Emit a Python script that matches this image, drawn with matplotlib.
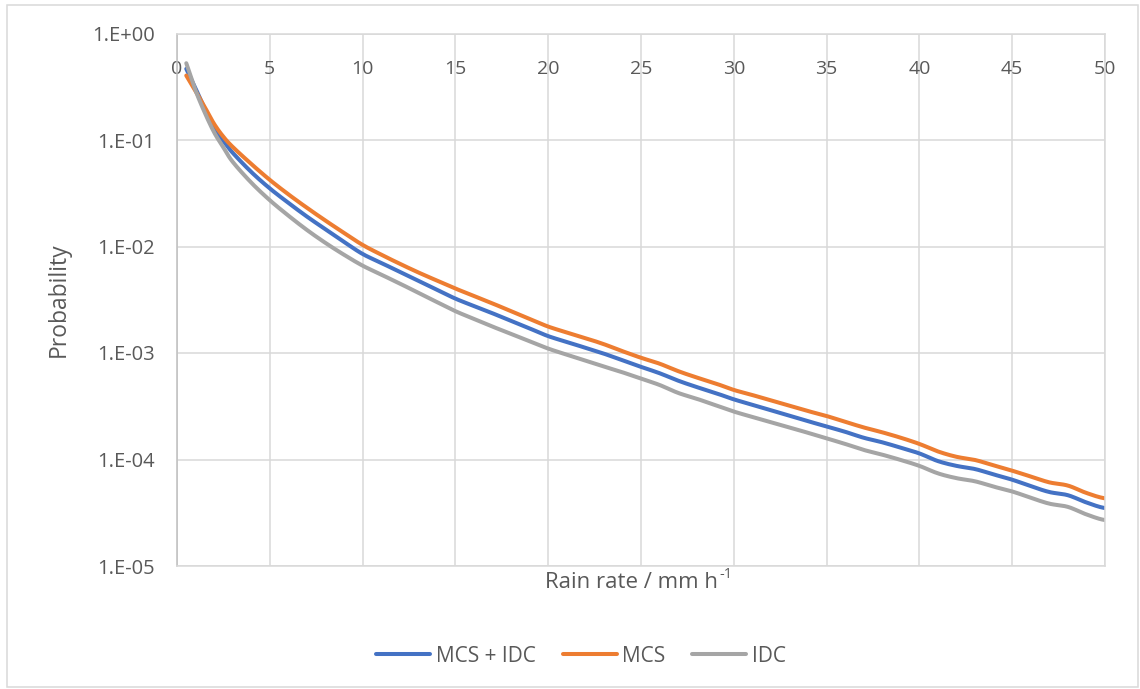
import numpy as np
import matplotlib
matplotlib.use("Agg")
import matplotlib.pyplot as plt
from matplotlib.ticker import FixedLocator, FuncFormatter
from matplotlib.patches import Rectangle

plt.rcParams['font.family'] = ['Open Sans', 'DejaVu Sans']

# rain rate (mm/h)
rain_rate = [0.5, 1, 1.5, 2, 2.5, 3, 4, 5, 6, 7, 8, 9, 10,
             11, 12, 13, 14, 15, 16, 17, 18, 19, 20,
             21, 22, 23, 24, 25, 26, 27, 28, 29, 30,
             31, 32, 33, 34, 35, 36, 37, 38, 39, 40,
             41, 42, 43, 44, 45, 46, 47, 48, 49, 50]

# probability
p_mcs_idc = [0.466, 0.305, 0.195, 0.130, 0.0977, 0.0759, 0.0501, 0.0351, 0.0257, 0.0191, 0.0145, 0.01104, 0.00851,
             0.00702, 0.00578, 0.00476, 0.00393, 0.00324, 0.00276, 0.00236, 0.00200, 0.00170, 0.00144,
             0.00127, 0.00112, 0.000986, 0.000855, 0.000741, 0.000646, 0.000550, 0.000479, 0.000422, 0.000367,
             0.000327, 0.000290, 0.000258, 0.000229, 0.000204, 0.000182, 0.000160, 0.000145, 0.000129, 0.000114,
             0.0000966, 0.0000871, 0.0000813, 0.0000724, 0.0000646, 0.0000562, 0.0000495, 0.0000462, 0.0000395, 0.0000350]

p_mcs = [0.403, 0.288, 0.203, 0.1416, 0.1072, 0.0861, 0.0596, 0.0422, 0.0309, 0.0231, 0.0175, 0.0134, 0.01035,
         0.00839, 0.00689, 0.00571, 0.00479, 0.00403, 0.00343, 0.00292, 0.00247, 0.00209, 0.00177,
         0.00156, 0.00138, 0.00121, 0.00104, 0.000902, 0.000794, 0.000676, 0.000589, 0.000519, 0.000450,
         0.000403, 0.000359, 0.000320, 0.000285, 0.000256, 0.000226, 0.000200, 0.000180, 0.000160, 0.000140,
         0.000119, 0.000106, 0.0000989, 0.0000881, 0.0000785, 0.0000692, 0.0000610, 0.0000569, 0.0000485, 0.0000432]

p_idc = [0.526, 0.292, 0.180, 0.118, 0.0851, 0.0624, 0.0398, 0.0272, 0.0195, 0.0143, 0.0108, 0.00836, 0.00661,
         0.00545, 0.00449, 0.00368, 0.00301, 0.00247, 0.00209, 0.00177, 0.00151, 0.00129, 0.00110,
         0.000964, 0.000847, 0.000746, 0.000659, 0.000575, 0.000501, 0.000422, 0.000372, 0.000324, 0.000282,
         0.000251, 0.000224, 0.000200, 0.000178, 0.000158, 0.000140, 0.000123, 0.000111, 0.0000989, 0.0000871,
         0.0000741, 0.0000668, 0.0000624, 0.0000556, 0.0000501, 0.0000437, 0.0000385, 0.0000359, 0.0000305, 0.0000270]

x_ticks = [0, 5, 10, 15, 20, 25, 30, 35, 40, 45, 50]
y_ticks = [1e-5, 1e-4, 1e-3, 1e-2, 1e-1, 1e0]

txt_col = '#595959'
grid_col = '#D9D9D9'


def smooth(x, y, n=12):
    # catmull-rom through the points (in log space), like Excel's smoothed line
    x = np.asarray(x, float)
    ly = np.log10(y)
    px = np.concatenate([[2*x[0] - x[1]], x, [2*x[-1] - x[-2]]])
    py = np.concatenate([[2*ly[0] - ly[1]], ly, [ly[-1]]])
    xs, ys = [], []
    t = np.linspace(0, 1, n, endpoint=False)
    for i in range(1, len(px) - 2):
        for arr, out in ((px, xs), (py, ys)):
            p0, p1, p2, p3 = arr[i-1:i+3]
            out.extend(0.5*((2*p1) + (-p0 + p2)*t + (2*p0 - 5*p1 + 4*p2 - p3)*t**2
                            + (-p0 + 3*p1 - 3*p2 + p3)*t**3))
    xs.append(x[-1])
    ys.append(ly[-1])
    return np.array(xs), 10**np.array(ys)


fig = plt.figure(figsize=(11.4, 6.89), dpi=100)
ax = fig.add_axes([177/1140, 1 - 566/689, (1105-177)/1140, (566-33.5)/689])

for vals, col, name in [(p_mcs_idc, '#4472C4', 'MCS + IDC'),
                        (p_mcs, '#ED7D31', 'MCS'),
                        (p_idc, '#A5A5A5', 'IDC')]:
    sx, sy = smooth(rain_rate, vals)
    ax.plot(sx, sy, color=col, lw=2.9, label=name, solid_capstyle='round')

ax.set_yscale('log')
ax.set_xlim(0, 50)
ax.set_ylim(1e-5, 1)
ax.xaxis.set_major_locator(FixedLocator(x_ticks))
ax.yaxis.set_major_locator(FixedLocator(y_ticks))
ax.yaxis.set_minor_locator(FixedLocator([]))
ax.yaxis.set_major_formatter(FuncFormatter(lambda v, pos: "1.E%+03d" % int(round(np.log10(v)))))

ax.grid(True, color=grid_col, lw=1.1)
ax.set_axisbelow(True)
for s in ax.spines.values():
    s.set_color(grid_col)
    s.set_linewidth(1.1)
ax.spines['left'].set_color('#BFBFBF')

# x labels sit just under the top line, like the Excel axis crossing at 1
ax.tick_params(axis='x', bottom=False, labelbottom=False, top=True, labeltop=True,
               length=0, pad=-32, labelsize=14, labelcolor=txt_col)
ax.tick_params(axis='y', length=0, pad=16, labelsize=14.5, labelcolor=txt_col)

ax.set_ylabel('Probability', fontsize=16.5, color=txt_col, labelpad=15)

# x label with a hyphen superscript
xl = fig.text(632/1140, 1 - 582/689, 'Rain rate / mm h', fontsize=16, color=txt_col,
              ha='center', va='center')
fig.canvas.draw()
bb = xl.get_window_extent()
fig.text(bb.x1 + 1, bb.y1 - 11, '-1', fontsize=10.5, color=txt_col, ha='left', va='bottom',
         transform=None)

fig.legend(loc='center', bbox_to_anchor=(581/1140, 1 - 656/689), ncol=3, frameon=False,
           fontsize=15, labelcolor=txt_col, handlelength=2.6, handletextpad=0.25,
           columnspacing=1.3)

fig.patches.append(Rectangle((7/1140, 2/689), 1131/1140, 682/689, transform=fig.transFigure,
                             fill=False, edgecolor=grid_col, lw=1.1))

fig.savefig('out.png', dpi=100)
